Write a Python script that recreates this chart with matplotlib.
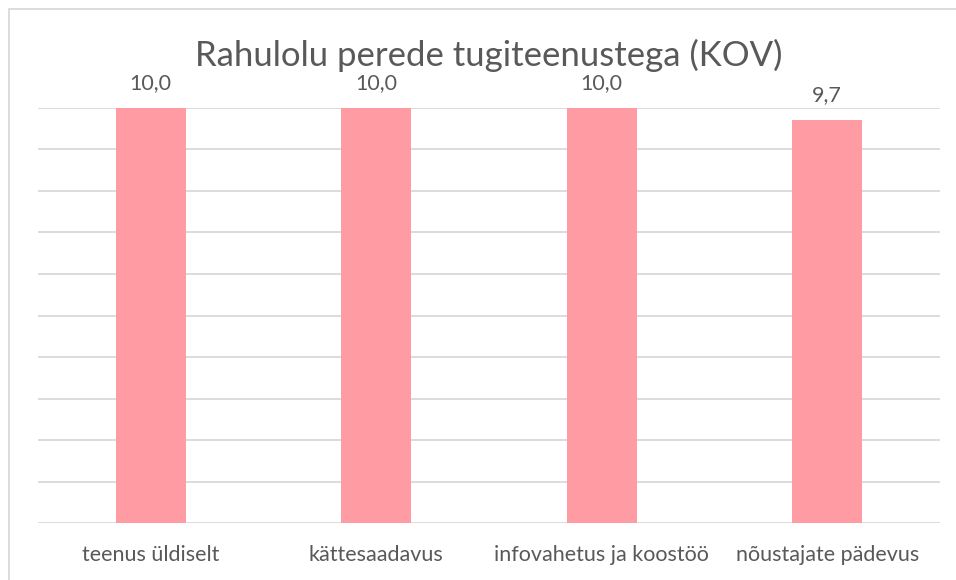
import matplotlib.pyplot as plt
from matplotlib.patches import Rectangle

categories = ['teenus üldiselt', 'kättesaadavus', 'infovahetus ja koostöö', 'nõustajate pädevus']
values = [10.0, 10.0, 10.0, 9.7]
labels = ['10,0', '10,0', '10,0', '9,7']

TEXT = '#595959'
GRID = '#d9d9d9'
BAR = '#ff9ca3'

plt.rcParams['font.family'] = ['Lato', 'DejaVu Sans']

fig = plt.figure(figsize=(9.56, 5.8), dpi=100)
ax = fig.add_axes([38 / 956, 1 - 523 / 580, 902 / 956, 415 / 580])

x = range(len(categories))
ax.bar(x, values, width=0.31, color=BAR, zorder=2)
for xi, v, lab in zip(x, values, labels):
    ax.annotate(lab, (xi, v), xytext=(0, 11), textcoords='offset points',
                ha='center', va='bottom', fontsize=15.5, color=TEXT)

ax.set_xlim(-0.5, len(categories) - 0.5)
ax.set_ylim(0, 10)
ax.set_yticks(range(0, 11))
ax.yaxis.grid(True, color=GRID, linewidth=1.3)
ax.tick_params(axis='y', left=False, labelleft=False)
ax.tick_params(axis='x', bottom=False, pad=12, labelsize=15.5, labelcolor=TEXT)
ax.set_xticks(list(x))
ax.set_xticklabels(categories)
for s in ax.spines.values():
    s.set_visible(False)

fig.text(489 / 956, 1 - 55 / 580, 'Rahulolu perede tugiteenustega (KOV)',
         ha='center', va='center', fontsize=25, color=TEXT)

# chart frame (left and top edges show)
fig.add_artist(Rectangle((9 / 956, -0.1), 1.2, 1 - 9 / 580 + 0.1,
                         transform=fig.transFigure, fill=False,
                         edgecolor=GRID, linewidth=1.3))

fig.savefig('out.png', dpi=100)
